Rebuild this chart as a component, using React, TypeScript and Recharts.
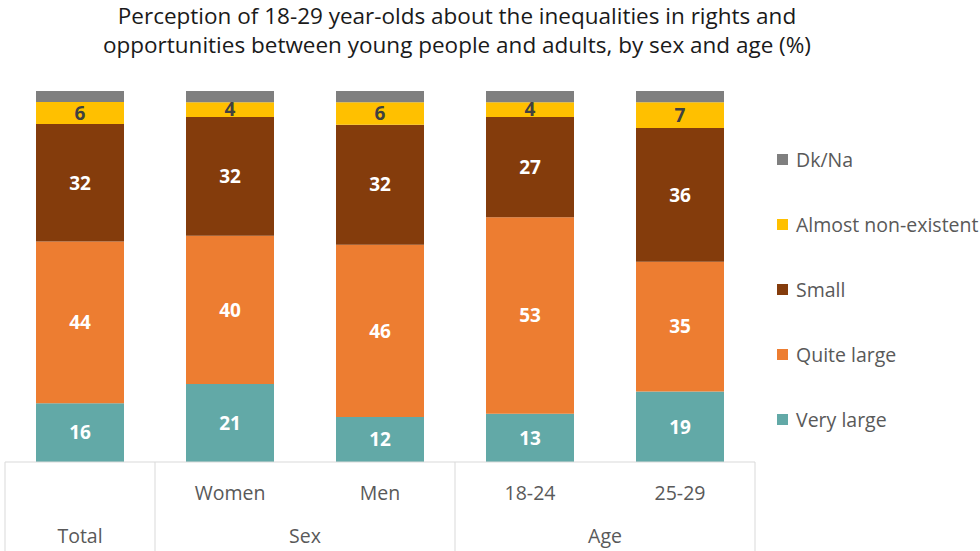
import React from "react";
import { BarChart, Bar, XAxis, YAxis, LabelList } from "recharts";

// categories and grouping rows of the table under the bars
const categories = ["Total", "Women", "Men", "18-24", "25-29"];
const tickLabels = ["", "Women", "Men", "18-24", "25-29"];
const groups = ["Total", "Sex", "Sex", "Age", "Age"];

// % answers per category
const veryLarge = [16, 21, 12, 13, 19];
const quiteLarge = [44, 40, 46, 53, 35];
const small = [32, 32, 32, 27, 36];
const almostNone = [6, 4, 6, 4, 7];
const dkNa = [3, 3, 3, 3, 3];

const series = [
  { key: "veryLarge", name: "Very large", color: "#62A9A7", values: veryLarge, label: "#FFFFFF" },
  { key: "quiteLarge", name: "Quite large", color: "#ED7D31", values: quiteLarge, label: "#FFFFFF" },
  { key: "small", name: "Small", color: "#843C0C", values: small, label: "#FFFFFF" },
  { key: "almostNone", name: "Almost non-existent", color: "#FFC000", values: almostNone, label: "#404040" },
  { key: "dkNa", name: "Dk/Na", color: "#7F7F7F", values: dkNa, label: null },
];

const data = categories.map((name, i) => {
  const row: any = { name };
  series.forEach((s) => (row[s.key] = s.values[i]));
  return row;
});

const W = 980;
const H = 551;
const M = { top: 91, right: 225, bottom: 0, left: 5 };
const AXIS_H = 89;
const PLOT_BOTTOM = H - AXIS_H;
const BAND = (W - M.left - M.right) / categories.length;
const FONT = "'Open Sans', sans-serif";
const GRID = "#D9D9D9";
const TEXT = "#595959";

function CategoryTick(props: any) {
  const { x, index } = props;
  const g = groups[index];
  const first = groups.indexOf(g);
  const last = groups.lastIndexOf(g);
  return (
    <g>
      {index === first && (
        <line x1={x - BAND / 2} x2={x - BAND / 2} y1={PLOT_BOTTOM} y2={H} stroke={GRID} />
      )}
      {index === categories.length - 1 && (
        <line x1={x + BAND / 2} x2={x + BAND / 2} y1={PLOT_BOTTOM} y2={H} stroke={GRID} />
      )}
      <text x={x} y={PLOT_BOTTOM + 38} textAnchor="middle" fill={TEXT} fontSize={19.5} fontFamily={FONT}>
        {tickLabels[index]}
      </text>
      {index === last && (
        <text
          x={x - ((last - first) * BAND) / 2}
          y={PLOT_BOTTOM + 81}
          textAnchor="middle"
          fill={TEXT}
          fontSize={19.5}
          fontFamily={FONT}
        >
          {g}
        </text>
      )}
    </g>
  );
}

export default function App() {
  return (
    <div style={{ position: "absolute", left: 0, top: 0, width: W, height: H, background: "#fff", fontFamily: FONT }}>
      <div
        style={{
          position: "absolute",
          left: 0,
          top: 1,
          width: 914,
          textAlign: "center",
          fontSize: 22.5,
          lineHeight: "29px",
          color: "#1a1a1a",
        }}
      >
        Perception of 18-29 year-olds about the inequalities in rights and
        <br />
        opportunities between young people and adults, by sex and age (%)
      </div>
      <BarChart width={W} height={H} data={data} margin={M} stackOffset="expand" barSize={88}>
        <XAxis
          dataKey="name"
          height={AXIS_H}
          tickLine={false}
          axisLine={{ stroke: GRID }}
          interval={0}
          tick={<CategoryTick />}
        />
        <YAxis hide domain={[0, 1]} />
        {series.map((s) => (
          <Bar key={s.key} dataKey={s.key} name={s.name} stackId="a" fill={s.color} isAnimationActive={false}>
            {s.label && (
              <LabelList
                dataKey={s.key}
                position="center"
                fill={s.label}
                fontSize={19}
                fontWeight="bold"
                fontFamily={FONT}
              />
            )}
          </Bar>
        ))}
      </BarChart>
      <div style={{ position: "absolute", left: 777, top: 127 }}>
        {[...series].reverse().map((s) => (
          <div key={s.key} style={{ display: "flex", alignItems: "center", height: 65 }}>
            <span style={{ width: 11, height: 11, background: s.color, marginRight: 8, flex: "none" }} />
            <span style={{ fontSize: 19.5, color: TEXT, whiteSpace: "nowrap", lineHeight: "24px" }}>{s.name}</span>
          </div>
        ))}
      </div>
    </div>
  );
}
